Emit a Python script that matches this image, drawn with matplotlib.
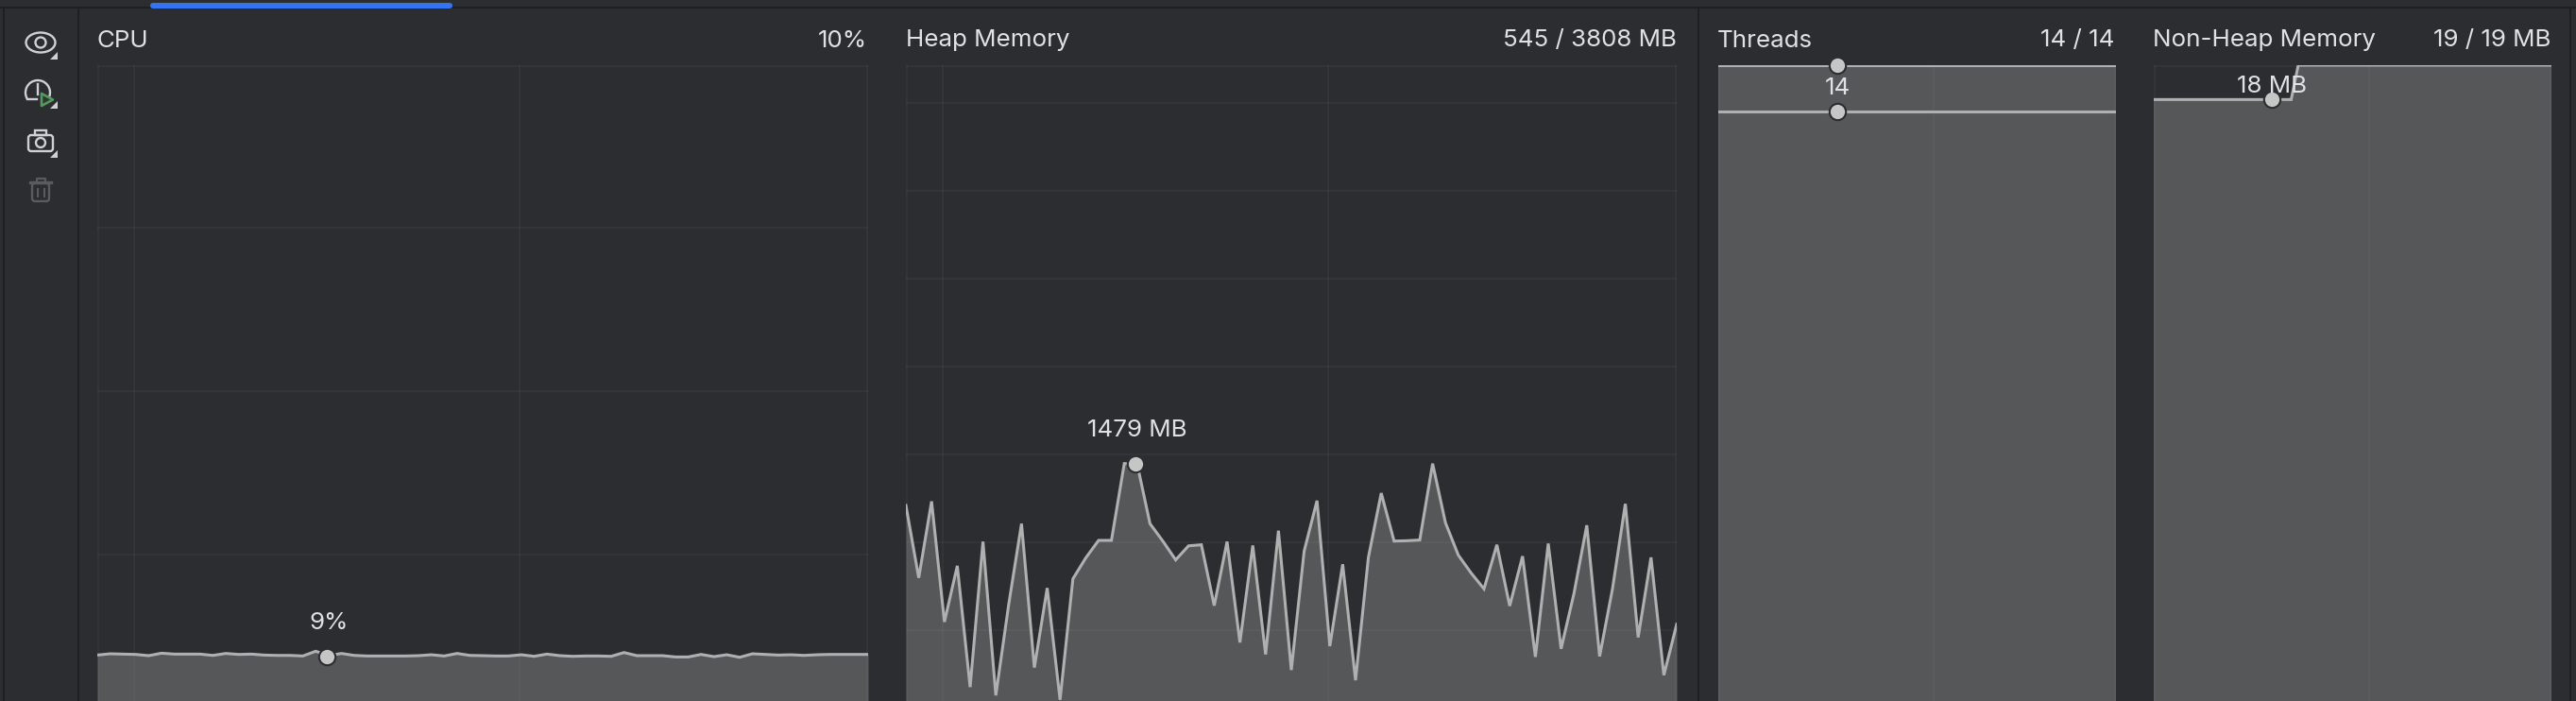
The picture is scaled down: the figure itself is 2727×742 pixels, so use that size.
# Profiler panels: CPU, heap, threads, non-heap
import matplotlib
matplotlib.use('Agg')
import matplotlib.pyplot as plt
from matplotlib.patches import Circle, Rectangle, Polygon, Arc, Ellipse, FancyBboxPatch

plt.rcParams['font.family'] = ['Inter', 'DejaVu Sans']

W = 2727
H = 742
BG = '#2b2d30'
FILL = '#565759'
LINE = '#b0b0b0'
TEXT = '#dfe1e5'
DARK = '#1e1f22'
FONT = 18.7

# data, one sample per step
cpu_values = [7.70, 7.86, 7.82, 7.78, 7.63, 7.93, 7.82, 7.82, 7.82, 7.66, 7.90, 7.78, 7.82, 7.70, 7.66, 7.66,
              7.59, 8.17, 7.63, 7.90, 7.66, 7.59, 7.59, 7.59, 7.59, 7.63, 7.74, 7.59, 7.90, 7.66, 7.63, 7.59,
              7.59, 7.74, 7.55, 7.82, 7.63, 7.55, 7.59, 7.59, 7.55, 8.01, 7.63, 7.63, 7.63, 7.47, 7.47, 7.78,
              7.51, 7.74, 7.43, 7.86, 7.78, 7.70, 7.74, 7.66, 7.74, 7.78, 7.78, 7.78, 7.78]
heap_values = [1210, 798, 1233, 547, 866, 176, 1004, 129, 645, 1106, 287, 740, 104, 792, 911, 1011, 1011, 1448,
               1446, 1106, 1007, 900, 980, 986, 640, 1004, 430, 982, 362, 1066, 273, 950, 1237, 409, 875, 215,
               914, 1280, 1007, 1009, 1013, 1448, 1111, 927, 825, 735, 986, 638, 921, 348, 993, 394, 708, 1097,
               351, 735, 1219, 459, 914, 244, 534]
thread_x = [0, 31]
thread_cap = [14, 14]
thread_live = [13, 13]
nonheap_x = [0, 10.7, 11.25, 31]
nonheap_values = [18, 18, 19, 19]

cpu_grid = [20, 40, 60]
heap_grid = [500, 1000, 1500, 2000, 2500, 3000, 3500]

titles = ['CPU', 'Heap Memory', 'Threads', 'Non-Heap Memory']
readings = ['10%', '545 / 3808 MB', '14 / 14', '19 / 19 MB']
hover = ['9%', '1479 MB', '14', '18 MB']

fig = plt.figure(figsize=(W / 100, H / 100), dpi=100, facecolor=BG)

# chrome layer in pixels
chrome = fig.add_axes([0, 0, 1, 1])
chrome.set_xlim(0, W)
chrome.set_ylim(H, 0)
chrome.axis('off')
chrome.set_zorder(10)
chrome.patch.set_visible(False)


def panel(x0, x1, xmax, ymax, ymin):
    ax = fig.add_axes([x0 / W, 0, (x1 - x0) / W, (H - 69) / H])
    ax.set_facecolor(BG)
    ax.set_xlim(0, xmax)
    ax.set_ylim(ymin, ymax)
    ax.set_xticks([])
    ax.set_yticks([])
    for s in ax.spines.values():
        s.set_visible(False)
    return ax


def draw(ax, xs, values, grid_x, grid_y):
    ax.fill_between(xs, values, ax.get_ylim()[0] - 10, color=FILL, lw=0, zorder=1)
    ax.plot(xs, values, color=LINE, lw=2.2, solid_joinstyle='miter', zorder=3)
    for gx in grid_x + [0.05, ax.get_xlim()[1] - 0.05]:
        ax.axvline(gx, color='white', lw=1.5, zorder=2, alpha=0.035)
    for gy in grid_y:
        ax.axhline(gy, color='white', lw=1.5, zorder=2, alpha=0.035)
    ax.axhline(ax.get_ylim()[1], color='white', lw=3, zorder=0, alpha=0.035)


def marker(ax, x, y):
    ax.plot([x], [y], 'o', ms=12.5, mfc='#c6c6c6', mec=BG, mew=1.5, zorder=5, clip_on=False)


# panels, bottom of picture is 18 px above zero
cpu = panel(103, 919, 60, 79.9, 2.08)
heap = panel(959, 1775, 60, 3715, 97)
threads = panel(1819, 2240, 30.96, 14, 14 * 18 / 691)
nonheap = panel(2280, 2701, 30.96, 19, 19 * 18 / 691)

xs60 = list(range(61))
draw(cpu, xs60, cpu_values, [2.9, 32.9], cpu_grid)
draw(heap, xs60, heap_values, [2.9, 32.9], heap_grid)
draw(threads, thread_x, thread_cap, [16.8], [])
threads.plot(thread_x, thread_live, color=LINE, lw=2.2, zorder=3)
draw(nonheap, nonheap_x, nonheap_values, [16.8], [])

marker(cpu, 17.9, cpu_values[18] - 0.1)
marker(heap, 17.9, heap_values[18])
marker(threads, 9.3, thread_cap[0])
marker(threads, 9.3, thread_live[0])
marker(nonheap, 9.2, nonheap_values[0])

# panel titles and readings
title_x = [102, 959, 1818, 2279]
right_x = [918, 1775, 2238, 2700]
for t, r, tx, rx in zip(titles, readings, title_x, right_x):
    chrome.text(tx, 43, t, color=TEXT, fontsize=FONT, va='center', ha='left')
    chrome.text(rx, 43, r, color=TEXT, fontsize=FONT, va='center', ha='right')

# labels over the markers
hover_xy = [(348, 660), (1204, 455), (1945, 93), (2405, 92)]
for t, (hx, hy) in zip(hover, hover_xy):
    chrome.text(hx, hy, t, color=TEXT, fontsize=FONT, va='center', ha='center')

# top bar and separators
chrome.add_patch(Rectangle((0, 7), W, 2, color=DARK, lw=0))
chrome.add_patch(FancyBboxPatch((159, 3), 320, 6, boxstyle='round,pad=0,rounding_size=3', color='#3574f0', lw=0))
for sx in [3, 82, 1797, 2720]:
    chrome.add_patch(Rectangle((sx, 9), 2, H, color=DARK, lw=0))

# toolbar icons
ICON = '#ced0d6'
TRASH = '#5a5b5e'
chrome.add_patch(Ellipse((43, 45), 31, 21, fill=False, ec=ICON, lw=1.7))
chrome.add_patch(Circle((43, 45), 5.5, fill=False, ec=ICON, lw=1.7))
chrome.add_patch(Arc((40, 98), 26, 26, theta1=150, theta2=380, ec=ICON, lw=1.7))
chrome.plot([29, 39], [105, 105], color=ICON, lw=1.7)
chrome.plot([40, 40], [89, 100], color=ICON, lw=1.7)
chrome.add_patch(Polygon([[44, 99], [56, 105.5], [44, 112]], fc='#2b3a2e', ec='#57965c', lw=1.9, joinstyle='round'))
chrome.add_patch(FancyBboxPatch((30, 143), 26, 17, boxstyle='round,pad=0,rounding_size=3', fill=False, ec=ICON, lw=1.7))
chrome.add_patch(Circle((43, 151), 5, fill=False, ec=ICON, lw=1.7))
chrome.add_patch(Rectangle((37, 138), 12, 5, fill=False, ec=ICON, lw=1.7))
chrome.add_patch(FancyBboxPatch((34, 194), 18, 19, boxstyle='round,pad=0,rounding_size=3', fill=False, ec=TRASH, lw=1.7))
chrome.plot([32, 54], [193, 193], color=TRASH, lw=2.4)
chrome.plot([38.5, 38.5, 47.5, 47.5], [193, 188.5, 188.5, 193], color=TRASH, lw=1.6)
chrome.plot([39.5, 39.5], [200, 208], color=TRASH, lw=1.5)
chrome.plot([46.5, 46.5], [200, 208], color=TRASH, lw=1.5)
for cy in [63, 115, 167]:
    chrome.add_patch(Polygon([[61, cy - 8], [61, cy], [53, cy]], color=ICON, lw=0))

fig.savefig('out.png', dpi=100, facecolor=BG)
